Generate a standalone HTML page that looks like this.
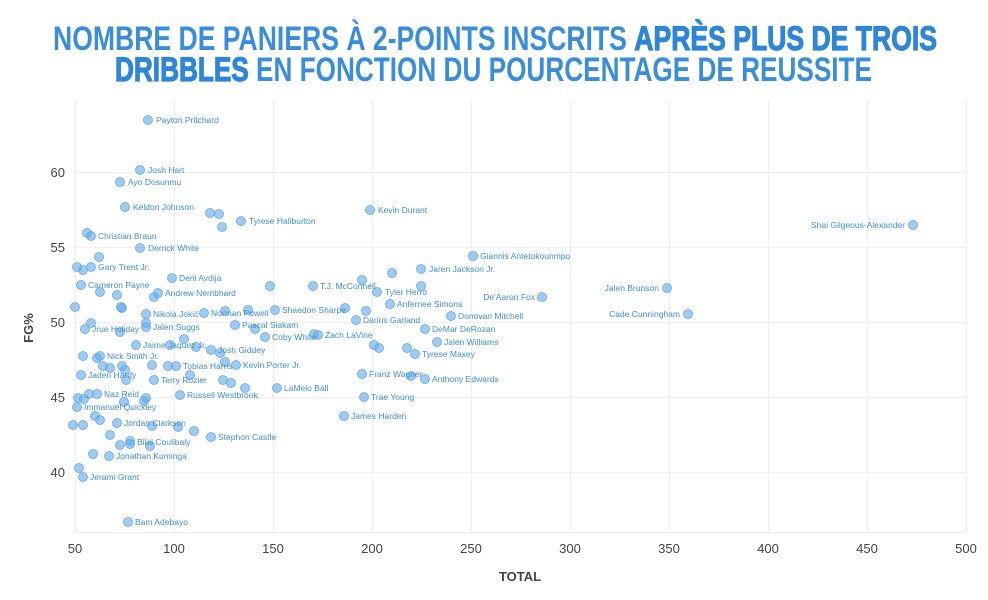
<!DOCTYPE html>
<html><head><meta charset="utf-8"><style>
body{margin:0;background:#fff;}
svg{display:block;}
.t{font-family:"Liberation Sans Narrow","Liberation Sans",sans-serif;font-weight:bold;fill:#3a8dd8;font-size:34px;}
.h{font-weight:900;fill:#2f86d6;stroke:#2f86d6;stroke-width:1.2px;}
.lb{font-family:"Liberation Sans",sans-serif;font-size:8.5px;fill:#3e8fd4;}
.tk{font-family:"Liberation Sans",sans-serif;font-size:13px;fill:#444;}
.ax{font-family:"Liberation Sans",sans-serif;font-size:13px;font-weight:bold;fill:#444;}
</style></head><body>
<svg width="988" height="600" xmlns="http://www.w3.org/2000/svg">
<text class="t" x="53" y="50" textLength="884" lengthAdjust="spacingAndGlyphs">NOMBRE DE PANIERS À 2-POINTS INSCRITS <tspan class="h">APRÈS PLUS DE TROIS</tspan></text>
<text class="t" x="115" y="81" textLength="757" lengthAdjust="spacingAndGlyphs"><tspan class="h">DRIBBLES</tspan> EN FONCTION DU POURCENTAGE DE REUSSITE</text>
<g stroke="#efefef" stroke-width="1">
<line x1="75.5" y1="100" x2="75.5" y2="532"/><line x1="174.5" y1="100" x2="174.5" y2="532"/><line x1="273.5" y1="100" x2="273.5" y2="532"/><line x1="372.5" y1="100" x2="372.5" y2="532"/><line x1="471.5" y1="100" x2="471.5" y2="532"/><line x1="570.5" y1="100" x2="570.5" y2="532"/><line x1="669.5" y1="100" x2="669.5" y2="532"/><line x1="768.5" y1="100" x2="768.5" y2="532"/><line x1="867.5" y1="100" x2="867.5" y2="532"/><line x1="966.5" y1="100" x2="966.5" y2="532"/>
<line x1="75" y1="172.5" x2="966" y2="172.5"/><line x1="75" y1="247.5" x2="966" y2="247.5"/><line x1="75" y1="322.5" x2="966" y2="322.5"/><line x1="75" y1="397.5" x2="966" y2="397.5"/><line x1="75" y1="472.5" x2="966" y2="472.5"/><line x1="75" y1="532.5" x2="966" y2="532.5"/>
</g>
<g class="tk" text-anchor="end"><text x="65" y="177">60</text><text x="65" y="252">55</text><text x="65" y="327">50</text><text x="65" y="402">45</text><text x="65" y="477">40</text></g>
<g class="tk" text-anchor="middle"><text x="75" y="553">50</text><text x="174" y="553">100</text><text x="273" y="553">150</text><text x="372" y="553">200</text><text x="471" y="553">250</text><text x="570" y="553">300</text><text x="669" y="553">350</text><text x="768" y="553">400</text><text x="867" y="553">450</text><text x="966" y="553">500</text></g>
<text class="ax" x="520" y="581" text-anchor="middle">TOTAL</text>
<text class="ax" transform="translate(33,328) rotate(-90)" text-anchor="middle">FG%</text>
<g fill="rgba(95,168,235,0.6)" stroke="#6aa9e2" stroke-width="0.8">
<circle cx="148" cy="120" r="4.5"/><circle cx="140" cy="170" r="4.5"/><circle cx="120" cy="182" r="4.5"/><circle cx="125" cy="207" r="4.5"/><circle cx="210" cy="213" r="4.5"/><circle cx="219" cy="214" r="4.5"/><circle cx="222" cy="227" r="4.5"/><circle cx="241" cy="221" r="4.5"/><circle cx="87" cy="233" r="4.5"/><circle cx="91" cy="236" r="4.5"/><circle cx="140" cy="248" r="4.5"/><circle cx="99" cy="257" r="4.5"/><circle cx="77" cy="267" r="4.5"/><circle cx="83" cy="270" r="4.5"/><circle cx="91" cy="267" r="4.5"/><circle cx="81" cy="285" r="4.5"/><circle cx="100" cy="292" r="4.5"/><circle cx="117" cy="295" r="4.5"/><circle cx="158" cy="293" r="4.5"/><circle cx="154" cy="297" r="4.5"/><circle cx="172" cy="278" r="4.5"/><circle cx="270" cy="286" r="4.5"/><circle cx="313" cy="286" r="4.5"/><circle cx="75" cy="307" r="4.5"/><circle cx="121" cy="307" r="4.5"/><circle cx="122" cy="308" r="4.5"/><circle cx="146" cy="314" r="4.5"/><circle cx="204" cy="313" r="4.5"/><circle cx="248" cy="310" r="4.5"/><circle cx="225" cy="311" r="4.5"/><circle cx="275" cy="310" r="4.5"/><circle cx="370" cy="210" r="4.5"/><circle cx="913" cy="225" r="4.5"/><circle cx="473" cy="256" r="4.5"/><circle cx="421" cy="269" r="4.5"/><circle cx="392" cy="273" r="4.5"/><circle cx="362" cy="280" r="4.5"/><circle cx="377" cy="292" r="4.5"/><circle cx="421" cy="286" r="4.5"/><circle cx="667" cy="288" r="4.5"/><circle cx="542" cy="297" r="4.5"/><circle cx="390" cy="304" r="4.5"/><circle cx="451" cy="316" r="4.5"/><circle cx="356" cy="320" r="4.5"/><circle cx="688" cy="314" r="4.5"/><circle cx="366" cy="311" r="4.5"/><circle cx="345" cy="308" r="4.5"/><circle cx="425" cy="329" r="4.5"/><circle cx="437" cy="342" r="4.5"/><circle cx="374" cy="345" r="4.5"/><circle cx="379" cy="348" r="4.5"/><circle cx="407" cy="348" r="4.5"/><circle cx="415" cy="354" r="4.5"/><circle cx="362" cy="374" r="4.5"/><circle cx="425" cy="379" r="4.5"/><circle cx="411" cy="376" r="4.5"/><circle cx="364" cy="397" r="4.5"/><circle cx="344" cy="416" r="4.5"/><circle cx="314" cy="334" r="4.5"/><circle cx="318" cy="335" r="4.5"/><circle cx="265" cy="337" r="4.5"/><circle cx="235" cy="325" r="4.5"/><circle cx="255" cy="329" r="4.5"/><circle cx="146" cy="327" r="4.5"/><circle cx="146" cy="323" r="4.5"/><circle cx="85" cy="329" r="4.5"/><circle cx="91" cy="323" r="4.5"/><circle cx="120" cy="332" r="4.5"/><circle cx="136" cy="345" r="4.5"/><circle cx="170" cy="345" r="4.5"/><circle cx="184" cy="339" r="4.5"/><circle cx="211" cy="350" r="4.5"/><circle cx="220" cy="353" r="4.5"/><circle cx="196" cy="347" r="4.5"/><circle cx="236" cy="365" r="4.5"/><circle cx="225" cy="362" r="4.5"/><circle cx="176" cy="366" r="4.5"/><circle cx="168" cy="366" r="4.5"/><circle cx="152" cy="365" r="4.5"/><circle cx="100" cy="356" r="4.5"/><circle cx="83" cy="356" r="4.5"/><circle cx="97" cy="358" r="4.5"/><circle cx="103" cy="366" r="4.5"/><circle cx="81" cy="375" r="4.5"/><circle cx="122" cy="366" r="4.5"/><circle cx="110" cy="368" r="4.5"/><circle cx="125" cy="370" r="4.5"/><circle cx="154" cy="380" r="4.5"/><circle cx="126" cy="380" r="4.5"/><circle cx="190" cy="375" r="4.5"/><circle cx="223" cy="380" r="4.5"/><circle cx="231" cy="383" r="4.5"/><circle cx="245" cy="388" r="4.5"/><circle cx="277" cy="388" r="4.5"/><circle cx="89" cy="394" r="4.5"/><circle cx="97" cy="394" r="4.5"/><circle cx="84" cy="399" r="4.5"/><circle cx="78" cy="398" r="4.5"/><circle cx="180" cy="395" r="4.5"/><circle cx="146" cy="398" r="4.5"/><circle cx="144" cy="401" r="4.5"/><circle cx="124" cy="402" r="4.5"/><circle cx="77" cy="407" r="4.5"/><circle cx="95" cy="416" r="4.5"/><circle cx="100" cy="420" r="4.5"/><circle cx="73" cy="425" r="4.5"/><circle cx="83" cy="425" r="4.5"/><circle cx="117" cy="423" r="4.5"/><circle cx="152" cy="426" r="4.5"/><circle cx="178" cy="427" r="4.5"/><circle cx="194" cy="431" r="4.5"/><circle cx="211" cy="437" r="4.5"/><circle cx="110" cy="435" r="4.5"/><circle cx="120" cy="445" r="4.5"/><circle cx="130" cy="441" r="4.5"/><circle cx="130" cy="444" r="4.5"/><circle cx="150" cy="446" r="4.5"/><circle cx="109" cy="456" r="4.5"/><circle cx="93" cy="454" r="4.5"/><circle cx="79" cy="468" r="4.5"/><circle cx="83" cy="477" r="4.5"/><circle cx="128" cy="522" r="4.5"/>
</g>
<g class="lb">
<text x="156" y="123">Payton Pritchard</text><text x="148" y="173">Josh Hart</text><text x="128" y="185">Ayo Dosunmu</text><text x="133" y="210">Keldon Johnson</text><text x="249" y="224">Tyrese Haliburton</text><text x="98" y="239">Christian Braun</text><text x="148" y="251">Derrick White</text><text x="98" y="270">Gary Trent Jr.</text><text x="88" y="288">Cameron Payne</text><text x="179" y="281">Deni Avdija</text><text x="165" y="296">Andrew Nembhard</text><text x="320" y="289">T.J. McConnell</text><text x="153" y="317">Nikola Jokić</text><text x="211" y="316">Norman Powell</text><text x="282" y="313">Shaedon Sharpe</text><text x="378" y="213">Kevin Durant</text><text x="905" y="228" text-anchor="end">Shai Gilgeous-Alexander</text><text x="480" y="259">Giannis Antetokounmpo</text><text x="429" y="272">Jaren Jackson Jr.</text><text x="385" y="295">Tyler Herro</text><text x="659" y="291" text-anchor="end">Jalen Brunson</text><text x="535" y="300" text-anchor="end">De'Aaron Fox</text><text x="397" y="307">Anfernee Simons</text><text x="458" y="319">Donovan Mitchell</text><text x="363" y="323">Darius Garland</text><text x="680" y="317" text-anchor="end">Cade Cunningham</text><text x="432" y="332">DeMar DeRozan</text><text x="444" y="345">Jalen Williams</text><text x="422" y="357">Tyrese Maxey</text><text x="369" y="377">Franz Wagner</text><text x="432" y="382">Anthony Edwards</text><text x="371" y="400">Trae Young</text><text x="351" y="419">James Harden</text><text x="325" y="338">Zach LaVine</text><text x="272" y="340">Coby White</text><text x="242" y="328">Pascal Siakam</text><text x="153" y="330">Jalen Suggs</text><text x="92" y="332">Jrue Holiday</text><text x="143" y="348">Jaime Jaquez Jr.</text><text x="218" y="353">Josh Giddey</text><text x="243" y="368">Kevin Porter Jr.</text><text x="183" y="369">Tobias Harris</text><text x="107" y="359">Nick Smith Jr.</text><text x="88" y="378">Jaden Hardy</text><text x="161" y="383">Terry Rozier</text><text x="284" y="391">LaMelo Ball</text><text x="104" y="397">Naz Reid</text><text x="187" y="398">Russell Westbrook</text><text x="84" y="410">Immanuel Quickley</text><text x="124" y="426">Jordan Clarkson</text><text x="218" y="440">Stephon Castle</text><text x="137" y="445">Bilal Coulibaly</text><text x="116" y="459">Jonathan Kuminga</text><text x="90" y="480">Jerami Grant</text><text x="135" y="525">Bam Adebayo</text>
</g>
</svg>
</body></html>
